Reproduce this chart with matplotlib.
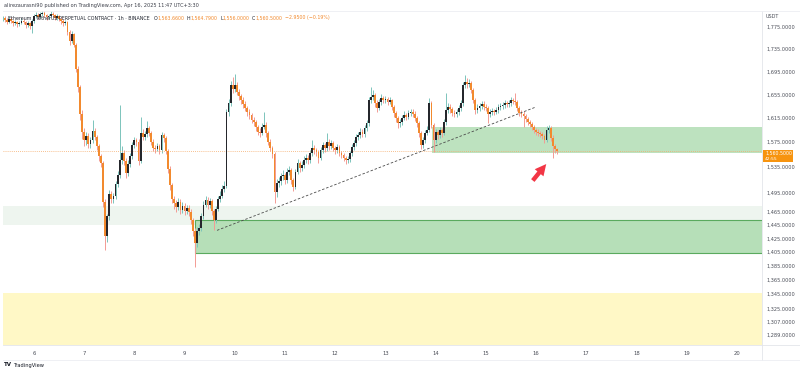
import matplotlib
matplotlib.use("Agg")
import matplotlib.pyplot as plt
from matplotlib.patches import Rectangle
from matplotlib.lines import Line2D
from matplotlib.ticker import NullLocator, NullFormatter
import numpy as np

# ETH/USDT perpetual, 1h candles, Apr 5 09:00 -> Apr 16 10:00 (UTC+3:30)
first_open = 1790
closes = [
    1792, 1788, 1785, 1790, 1786, 1782, 1784, 1780, 1783, 1787,
    1784, 1779, 1782, 1778, 1786, 1795, 1798, 1794, 1799, 1802,
    1797, 1793, 1796, 1800, 1797, 1792, 1795, 1790, 1786, 1782,
    1784, 1766, 1750, 1762, 1742, 1700, 1668, 1622, 1592, 1578,
    1585, 1572, 1578, 1594, 1583, 1568, 1552, 1541, 1480, 1428,
    1458, 1492, 1484, 1489, 1508, 1522, 1546, 1558, 1545, 1526,
    1540, 1552, 1570, 1578, 1575, 1545, 1590, 1584, 1588, 1598,
    1590, 1576, 1566, 1564, 1568, 1562, 1586, 1582, 1560, 1532,
    1506, 1485, 1478, 1472, 1480, 1468, 1474, 1466, 1471, 1465,
    1452, 1436, 1418, 1436, 1440, 1458, 1476, 1483, 1476, 1481,
    1466, 1452, 1470, 1484, 1490, 1500, 1505, 1625, 1640, 1671,
    1665, 1672, 1660, 1652, 1645, 1638, 1632, 1625, 1620, 1612,
    1608, 1600, 1592, 1590, 1600, 1604, 1590, 1575, 1565, 1555,
    1495, 1510, 1512, 1520, 1522, 1514, 1527, 1530, 1514, 1503,
    1527, 1541, 1533, 1538, 1546, 1549, 1546, 1557, 1565, 1562,
    1559, 1550, 1562, 1570, 1565, 1575, 1568, 1573, 1565, 1562,
    1567, 1557, 1554, 1549, 1546, 1547, 1557, 1567, 1573, 1583,
    1586, 1591, 1588, 1598, 1606, 1645, 1650, 1654, 1640, 1632,
    1642, 1649, 1645, 1647, 1642, 1645, 1633, 1623, 1615, 1606,
    1608, 1615, 1620, 1617, 1623, 1625, 1622, 1615, 1606, 1590,
    1570, 1578, 1590, 1595, 1640, 1603, 1578, 1591, 1586, 1595,
    1590, 1608, 1628, 1634, 1630, 1623, 1622, 1625, 1632, 1640,
    1671, 1677, 1673, 1675, 1663, 1645, 1628, 1632, 1635, 1638,
    1634, 1632, 1622, 1625, 1627, 1625, 1628, 1634, 1635, 1637,
    1640, 1638, 1640, 1645, 1643, 1642, 1632, 1623, 1622, 1618,
    1613, 1608, 1605, 1600, 1595, 1591, 1590, 1588, 1585, 1578,
    1595, 1598, 1582, 1568, 1563.45, 1560.5,
]
highs = [
    1796, 1795, 1791, 1794, 1793, 1789, 1788, 1787, 1787, 1791,
    1790, 1787, 1786, 1785, 1790, 1799, 1803, 1801, 1804, 1808,
    1805, 1800, 1800, 1805, 1803, 1800, 1799, 1798, 1793, 1790,
    1789, 1787, 1770, 1768, 1765, 1746, 1705, 1672, 1628, 1598,
    1592, 1590, 1584, 1612, 1598, 1587, 1572, 1556, 1545, 1485,
    1462, 1498, 1497, 1494, 1512, 1528, 1637, 1568, 1563, 1550,
    1546, 1558, 1575, 1584, 1582, 1580, 1617, 1596, 1594, 1610,
    1602, 1594, 1580, 1571, 1573, 1572, 1592, 1590, 1585, 1564,
    1536, 1510, 1490, 1483, 1486, 1484, 1480, 1478, 1476, 1475,
    1469, 1456, 1440, 1442, 1446, 1463, 1482, 1490, 1487, 1486,
    1485, 1470, 1474, 1490, 1497, 1506, 1512, 1630, 1648, 1678,
    1685, 1690, 1676, 1664, 1656, 1650, 1643, 1636, 1630, 1624,
    1617, 1612, 1604, 1598, 1606, 1625, 1608, 1594, 1580, 1569,
    1559, 1516, 1519, 1526, 1530, 1526, 1533, 1537, 1534, 1518,
    1532, 1548, 1545, 1544, 1552, 1556, 1554, 1562, 1578, 1570,
    1566, 1563, 1567, 1576, 1574, 1590, 1580, 1578, 1577, 1569,
    1572, 1571, 1561, 1558, 1553, 1552, 1561, 1572, 1578, 1588,
    1592, 1598, 1596, 1603, 1612, 1650, 1668, 1662, 1658, 1645,
    1647, 1655, 1653, 1652, 1651, 1650, 1648, 1637, 1627, 1619,
    1614, 1620, 1626, 1624, 1628, 1631, 1630, 1626, 1619, 1610,
    1594, 1584, 1595, 1601, 1649, 1644, 1607, 1596, 1595, 1600,
    1599, 1613, 1658, 1641, 1638, 1634, 1628, 1630, 1637, 1646,
    1676, 1689, 1683, 1681, 1678, 1667, 1649, 1638, 1641, 1644,
    1643, 1639, 1636, 1630, 1632, 1631, 1633, 1639, 1640, 1642,
    1645, 1644, 1646, 1650, 1649, 1658, 1646, 1636, 1628, 1626,
    1622, 1617, 1612, 1609, 1604, 1599, 1596, 1594, 1592, 1589,
    1601, 1603, 1601, 1586, 1572, 1564.79,
]
lows = [
    1786, 1784, 1781, 1782, 1783, 1777, 1779, 1775, 1777, 1780,
    1780, 1774, 1776, 1772, 1764, 1783, 1792, 1790, 1791, 1796,
    1793, 1789, 1790, 1793, 1793, 1788, 1789, 1786, 1781, 1778,
    1779, 1760, 1742, 1746, 1738, 1694, 1660, 1612, 1580, 1568,
    1570, 1565, 1566, 1574, 1578, 1562, 1545, 1535, 1472, 1408,
    1420, 1452, 1478, 1478, 1485, 1503, 1518, 1540, 1538, 1518,
    1520, 1535, 1548, 1565, 1568, 1538, 1542, 1578, 1578, 1584,
    1585, 1570, 1560, 1558, 1560, 1556, 1558, 1576, 1555, 1525,
    1498, 1478, 1470, 1465, 1468, 1462, 1463, 1460, 1461, 1459,
    1446, 1428, 1383, 1412, 1430, 1436, 1454, 1472, 1470, 1471,
    1460, 1437, 1448, 1466, 1480, 1486, 1496, 1502, 1618, 1636,
    1658, 1660, 1654, 1646, 1638, 1632, 1626, 1619, 1614, 1606,
    1602, 1594, 1586, 1584, 1586, 1596, 1584, 1570, 1560, 1549,
    1478, 1488, 1504, 1507, 1514, 1508, 1510, 1522, 1508, 1497,
    1500, 1523, 1527, 1528, 1534, 1541, 1540, 1542, 1552, 1556,
    1553, 1541, 1546, 1558, 1559, 1561, 1563, 1564, 1560, 1556,
    1557, 1552, 1549, 1544, 1540, 1541, 1543, 1553, 1563, 1569,
    1578, 1581, 1583, 1584, 1594, 1602, 1640, 1645, 1634, 1625,
    1628, 1637, 1640, 1640, 1637, 1638, 1628, 1617, 1609, 1598,
    1600, 1604, 1611, 1612, 1613, 1618, 1617, 1610, 1600, 1584,
    1564, 1566, 1574, 1586, 1591, 1598, 1559, 1573, 1580, 1582,
    1584, 1586, 1604, 1623, 1624, 1618, 1616, 1617, 1620, 1627,
    1636, 1666, 1667, 1668, 1657, 1640, 1622, 1623, 1627, 1630,
    1629, 1627, 1606, 1617, 1620, 1620, 1621, 1624, 1629, 1631,
    1632, 1633, 1634, 1636, 1638, 1637, 1627, 1618, 1616, 1600,
    1608, 1603, 1600, 1595, 1590, 1586, 1585, 1583, 1580, 1573,
    1575, 1590, 1577, 1549, 1558, 1556,
]

day_labels = list(range(6, 21))
first_day_hour = 15          # candle index of Apr 6 00:00
price_ticks = [1775, 1735, 1695, 1655, 1615, 1575, 1535, 1495, 1465, 1445,
               1425, 1405, 1385, 1365, 1345, 1325, 1307, 1289]

last_price = 1560.5
countdown = "42:55"
ohlc = [("O", "1,563.6600"), ("H", "1,564.7900"), ("L", "1,556.0000"), ("C", "1,560.5000")]
change = "\u22122.9500 (\u22120.19%)"

# drawn levels (prices), and candle index where boxes begin
light_zone = (1445, 1474)
demand_zone = (1403.8, 1452.6)
demand_start = 92
upper_zone = (1557, 1600)
upper_start = 205.3
yellow_top = 1346
trend_a = (102.5, 1437)
trend_b = (254.5, 1633)
arrow_tail = (252.6, 1510)
arrow_head = (260.7, 1543)

W, H = 800, 373
UP_C, DOWN_C = "#25272c", "#f28a2e"
UP_W, DOWN_W = "#7cc4bb", "#f39b94"
TXT = "#4a4d57"

fig = plt.figure(figsize=(W / 100, H / 100), dpi=100)
ax = fig.add_axes([3 / W, 1 - 345 / H, 759 / W, 334 / H])
ax.set_yscale("log")
ax.set_ylim(1275.6, 1805)
ax.set_xlim(0.2, 363)

x_end = 400
ax.axhspan(light_zone[0], light_zone[1], color="#eef5ef", lw=0, zorder=0)
ax.axhspan(1000, yellow_top, color="#fff8c6", lw=0, zorder=0)
ax.add_patch(Rectangle((demand_start, demand_zone[0]), x_end, demand_zone[1] - demand_zone[0],
                       facecolor="#b6dfb8", edgecolor="#5aaa5e", lw=0.8, zorder=1))
ax.add_patch(Rectangle((upper_start, upper_zone[0]), x_end, upper_zone[1] - upper_zone[0],
                       facecolor="#bde2bf", edgecolor="none", zorder=1))

o = np.array([first_open] + closes[:-1], dtype=float)
c = np.array(closes, dtype=float)
hi = np.maximum(np.array(highs, dtype=float), np.maximum(o, c))
lo = np.minimum(np.array(lows, dtype=float), np.minimum(o, c))
idx = np.arange(len(c))
up = c >= o

ax.vlines(idx, lo, hi, colors=np.where(up, UP_W, DOWN_W), lw=0.7, zorder=2)
body_lo = np.minimum(o, c)
body_h = np.maximum(np.abs(c - o), 0.9)
ax.bar(idx, body_h, bottom=body_lo, width=0.85,
       color=np.where(up, UP_C, DOWN_C), lw=0, zorder=3)

ax.axhline(last_price, color="#f5ab6a", lw=0.6, ls=(0, (1, 1.5)), zorder=2)
ax.plot([trend_a[0], trend_b[0]], [trend_a[1], trend_b[1]], color="#4b4b4b",
        lw=0.6, ls=(0, (3, 2.2)), zorder=4)
ax.annotate("", xy=arrow_head, xytext=arrow_tail,
            arrowprops=dict(arrowstyle="simple,head_length=0.9,head_width=0.9,tail_width=0.35",
                            color="#f23645", lw=0, mutation_scale=9), zorder=5)

ax.yaxis.tick_right()
ax.set_yticks(price_ticks)
ax.set_yticklabels([f"{p:,.4f}" for p in price_ticks])
ax.yaxis.set_minor_locator(NullLocator())
ax.yaxis.set_minor_formatter(NullFormatter())
ax.tick_params(axis="y", length=0, pad=3.5, labelsize=3.6, labelcolor=TXT)
ax.set_xticks([first_day_hour + 24 * (d - 6) for d in day_labels])
ax.set_xticklabels([str(d) for d in day_labels])
ax.tick_params(axis="x", length=0, pad=4.5, labelsize=3.8, labelcolor=TXT)
for s in ax.spines.values():
    s.set_visible(False)

# pane separators
fig.add_artist(Line2D([762 / W, 762 / W], [1 - 360 / H, 1 - 11 / H], color="#e3e5ea", lw=0.6))
fig.add_artist(Line2D([3 / W, 1], [1 - 345 / H, 1 - 345 / H], color="#e3e5ea", lw=0.6))
fig.add_artist(Line2D([3 / W, 1], [1 - 360 / H, 1 - 360 / H], color="#eceef2", lw=0.6))
fig.add_artist(Line2D([3 / W, 1], [1 - 11 / H, 1 - 11 / H], color="#eceef2", lw=0.6))

# last price tag
fig.add_artist(Rectangle((763 / W, 1 - 162 / H), 30 / W, 12 / H, color="#f7940f", lw=0))
fig.text(765 / W, 1 - 153 / H, f"{last_price:,.4f}", color="white", fontsize=3.4, va="center")
fig.text(765 / W, 1 - 159 / H, countdown, color="white", fontsize=3.2, va="center")
fig.text(766 / W, 1 - 17 / H, "USDT", color=TXT, fontsize=3.5, va="center")

renderer = fig.canvas.get_renderer()


def draw_run(x_px, y_px, pieces, size):
    x = x_px
    for s, col in pieces:
        t = fig.text(x / W, 1 - y_px / H, s, color=col, fontsize=size, va="center", ha="left")
        x += t.get_window_extent(renderer).width
    return x


fig.text(4 / W, 1 - 6 / H, "alirezaurasni90 published on TradingView.com, Apr 16, 2025 11:47 UTC+3:30",
         color="#3b3e48", fontsize=3.6, va="center")
x0 = draw_run(8, 18, [("Ethereum / TetherUS PERPETUAL CONTRACT \u00b7 1h \u00b7 BINANCE", "#1e222d")], 3.4) + 4
for k, v in ohlc:
    x0 = draw_run(x0, 18, [(k, "#1e222d"), (v, DOWN_C)], 3.4) + 2.5
draw_run(x0, 18, [(change, DOWN_C)], 3.4)

fig.text(4 / W, 1 - 365 / H, "TV", color="#131722", fontsize=4, fontweight="bold", va="center")
fig.text(13 / W, 1 - 365 / H, "TradingView", color="#131722", fontsize=3.7, va="center")

fig.savefig("out.png", dpi=100)
